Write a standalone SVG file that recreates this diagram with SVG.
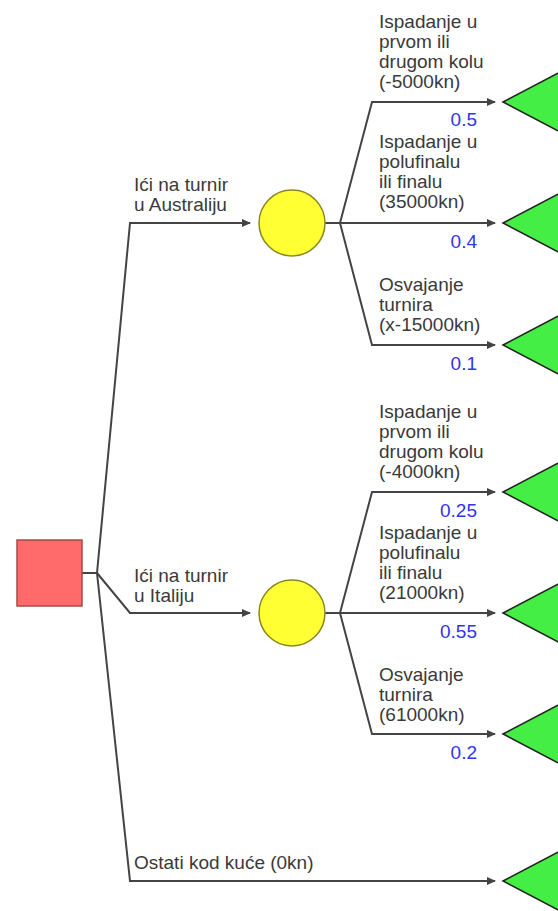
<svg xmlns="http://www.w3.org/2000/svg" width="558" height="911" viewBox="0 0 558 911">
<style>
.t{font-family:"Liberation Sans",Arial,sans-serif;font-size:19px;fill:#3a3a3a}
.p{font-family:"Liberation Sans",Arial,sans-serif;font-size:19px;fill:#3333EE;text-anchor:end}
.c{fill:none;stroke:#444444;stroke-width:2}
.a{fill:none;stroke:#444444;stroke-width:2;marker-end:url(#ah)}
.leaf{fill:#44EE44;stroke:#222222;stroke-width:1.5}
</style>
<defs>
<marker id="ah" markerWidth="10" markerHeight="10" refX="8" refY="5" orient="auto" markerUnits="userSpaceOnUse">
<path d="M0,1 L9,5 L0,9 Z" fill="#444444"/>
</marker>
</defs>
<rect width="558" height="911" fill="#ffffff"/>
<g id="connectors">
<path class="c" d="M82,573 H97"/>
<path class="a" d="M97,573 L130,223 H250"/>
<path class="a" d="M97,573 L130,613 H250"/>
<path class="a" d="M97,573 L130,881 H495"/>
<path class="c" d="M325,223 H340"/>
<path class="a" d="M340,223 L372,102 H495"/>
<path class="a" d="M340,223 H495"/>
<path class="a" d="M340,223 L372,345 H495"/>
<path class="c" d="M325,613 H340"/>
<path class="a" d="M340,613 L372,492 H495"/>
<path class="a" d="M340,613 H495"/>
<path class="a" d="M340,613 L372,734 H495"/>
</g>
<g id="labels">
<text class="t" x="134" y="191">Ići na turnir</text>
<text class="t" x="134" y="211">u Australiju</text>
<text class="t" x="134" y="582">Ići na turnir</text>
<text class="t" x="134" y="602">u Italiju</text>
<text class="t" x="134" y="869">Ostati kod kuće (0kn)</text>
<text class="t" x="379" y="28">Ispadanje u</text>
<text class="t" x="379" y="48">prvom ili</text>
<text class="t" x="379" y="68">drugom kolu</text>
<text class="t" x="379" y="88">(-5000kn)</text>
<text class="p" x="477" y="126">0.5</text>
<text class="t" x="379" y="148">Ispadanje u</text>
<text class="t" x="379" y="168">polufinalu</text>
<text class="t" x="379" y="188">ili finalu</text>
<text class="t" x="379" y="208">(35000kn)</text>
<text class="p" x="477" y="248">0.4</text>
<text class="t" x="379" y="291">Osvajanje</text>
<text class="t" x="379" y="311">turnira</text>
<text class="t" x="379" y="331">(x-15000kn)</text>
<text class="p" x="477" y="370">0.1</text>
<text class="t" x="379" y="418">Ispadanje u</text>
<text class="t" x="379" y="438">prvom ili</text>
<text class="t" x="379" y="458">drugom kolu</text>
<text class="t" x="379" y="478">(-4000kn)</text>
<text class="p" x="477" y="517">0.25</text>
<text class="t" x="379" y="539">Ispadanje u</text>
<text class="t" x="379" y="559">polufinalu</text>
<text class="t" x="379" y="579">ili finalu</text>
<text class="t" x="379" y="599">(21000kn)</text>
<text class="p" x="477" y="638">0.55</text>
<text class="t" x="379" y="681">Osvajanje</text>
<text class="t" x="379" y="701">turnira</text>
<text class="t" x="379" y="721">(61000kn)</text>
<text class="p" x="477" y="759">0.2</text>
</g>
<g id="decision"><rect x="17" y="540" width="65" height="66" fill="#FF6B6B" stroke="#A84848" stroke-width="1.5"/></g>
<g id="chance1"><circle cx="292" cy="223" r="33" fill="#FFFF33" stroke="#888822" stroke-width="1.5"/></g>
<g id="chance2"><circle cx="292" cy="613" r="33" fill="#FFFF33" stroke="#888822" stroke-width="1.5"/></g>
<g id="leaf1"><polygon class="leaf" points="503,102 566,69 566,135"/></g>
<g id="leaf2"><polygon class="leaf" points="503,223 566,190 566,256"/></g>
<g id="leaf3"><polygon class="leaf" points="503,345 566,312 566,378"/></g>
<g id="leaf4"><polygon class="leaf" points="503,492 566,459 566,525"/></g>
<g id="leaf5"><polygon class="leaf" points="503,613 566,580 566,646"/></g>
<g id="leaf6"><polygon class="leaf" points="503,734 566,701 566,767"/></g>
<g id="leaf7"><polygon class="leaf" points="503,881 566,848 566,914"/></g>
</svg>
